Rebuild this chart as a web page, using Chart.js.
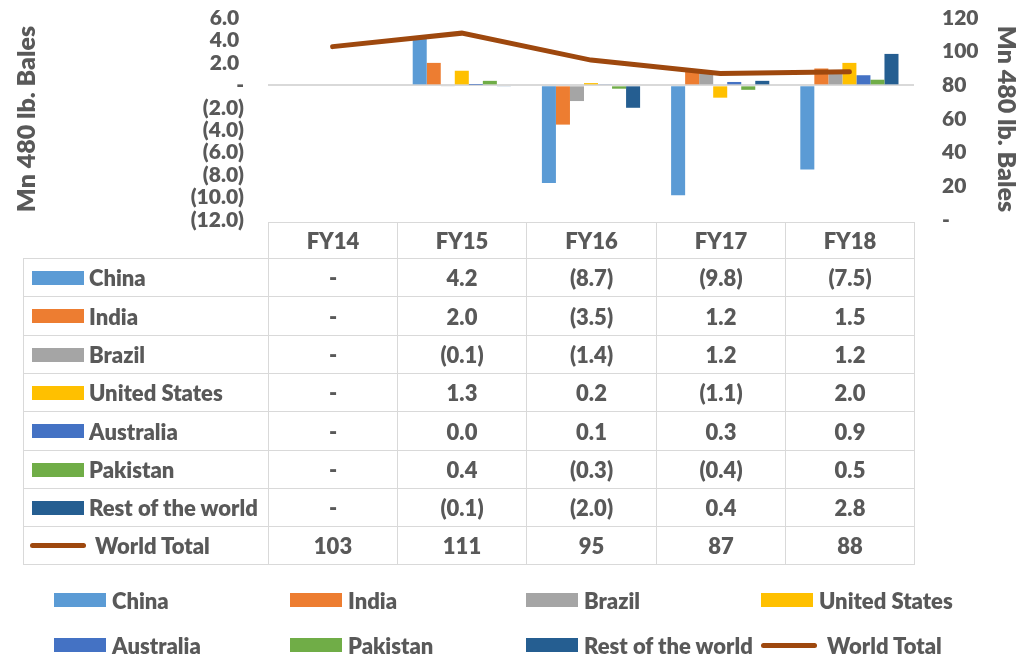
<!DOCTYPE html>
<html>
<head>
<meta charset="utf-8">
<script src="https://cdn.jsdelivr.net/npm/chart.js@4.4.1/dist/chart.umd.min.js"></script>
<style>
  body { margin: 0; background: #fff; font-family: Lato, sans-serif; font-weight: 800; color: #595959; }
  #wrap { position: relative; width: 1022px; height: 656px; overflow: hidden; }
  canvas { position: absolute; left: 0; top: 0; }
  .cell { position: absolute; box-sizing: border-box; border: 1px solid #d9d9d9; display: flex;
          align-items: center; justify-content: center; font-size: 22px; }
  .lab { justify-content: flex-start; padding-left: 8px; white-space: nowrap; }
  .sw { display: inline-block; width: 52px; height: 14px; margin-right: 5px; flex: none; }
  .ln { display: inline-block; width: 56px; height: 5px; border-radius: 3px; margin-right: 9px; margin-left: -2px; flex: none; }
  .leg { position: absolute; display: flex; align-items: center; font-size: 22px; white-space: nowrap; }
</style>
</head>
<body>
<div id="wrap">
  <canvas id="chart" width="1022" height="656"></canvas>
</div>
<script>
const years = ["FY14", "FY15", "FY16", "FY17", "FY18"];

const china     = [0, 4.2, -8.7, -9.8, -7.5];
const india     = [0, 2.0, -3.5, 1.2, 1.5];
const brazil    = [0, -0.1, -1.4, 1.2, 1.2];
const usa       = [0, 1.3, 0.2, -1.1, 2.0];
const australia = [0, 0.03, 0.1, 0.3, 0.9];
const pakistan  = [0, 0.4, -0.3, -0.4, 0.5];
const restWorld = [0, -0.1, -2.0, 0.4, 2.8];
const worldTotal = [103, 111, 95, 87, 88];

const countryNames = ["China", "India", "Brazil", "United States", "Australia", "Pakistan", "Rest of the world"];
const countryData = [china, india, brazil, usa, australia, pakistan, restWorld];
const countryColors = ["#5B9BD5", "#ED7D31", "#A5A5A5", "#FFC000", "#4472C4", "#70AD47", "#255E91"];
const totalName = "World Total";
const totalColor = "#9E480E";

const leftTicks = { min: -12, max: 6, step: 2 };
const rightTicks = { min: 0, max: 120, step: 20 };

function fmtChange(v) {
  if (v === 0) return "-";
  if (v < 0) return "(" + Math.abs(v).toFixed(1) + ")";
  return v.toFixed(1);
}

const datasets = countryNames.map((name, i) => ({
  type: "bar",
  label: name,
  data: countryData[i],
  backgroundColor: countryColors[i],
  yAxisID: "y",
  order: 2,
  categoryPercentage: 0.76,
  barPercentage: 1.0,
}));
datasets.push({
  type: "line",
  label: totalName,
  data: worldTotal,
  borderColor: totalColor,
  borderWidth: 5,
  borderCapStyle: "round",
  pointRadius: 0,
  tension: 0,
  yAxisID: "y2",
  order: 1,
});

const tickFont = { family: "Lato", size: 21, weight: "800" };
const titleFont = { family: "Lato", size: 25, weight: "800" };

// fixed axis widths, no label overhang so the plot sits where the layout padding says
function fitAxis(w) {
  return (s) => { s.width = w; s.paddingTop = 0; s.paddingBottom = 0; };
}

const chart = new Chart(document.getElementById("chart"), {
  data: { labels: years, datasets: datasets },
  options: {
    responsive: false,
    animation: false,
    layout: { padding: { top: 18, bottom: 436, left: 0, right: 0 } },
    plugins: { legend: { display: false }, tooltip: { enabled: false } },
    scales: {
      x: { display: false, offset: true },
      y: {
        position: "left",
        min: leftTicks.min, max: leftTicks.max,
        afterFit: fitAxis(268),
        ticks: {
          stepSize: leftTicks.step,
          autoSkip: false,
          color: "#595959",
          font: tickFont,
          padding: 24,
          callback: (v) => (v > 0 ? fmtChange(v) + " " : fmtChange(v)),
        },
        grid: {
          drawTicks: false,
          color: (c) => (c.tick && c.tick.value === 0 ? "#d9d9d9" : "rgba(0,0,0,0)"),
          lineWidth: 2,
        },
        border: { display: false },
        title: { display: true, text: "Mn 480 lb. Bales", color: "#595959", font: titleFont, padding: { top: 12 } },
      },
      y2: {
        position: "right",
        min: rightTicks.min, max: rightTicks.max,
        afterFit: fitAxis(108),
        ticks: {
          stepSize: rightTicks.step,
          autoSkip: false,
          color: "#595959",
          font: tickFont,
          padding: 28,
          callback: (v) => (v === 0 ? "-" : String(v)),
        },
        grid: { display: false, drawTicks: false },
        border: { display: false },
        title: { display: true, text: "Mn 480 lb. Bales", color: "#595959", font: titleFont, padding: { top: 1 } },
      },
    },
  },
});

// data table under the plot, columns taken from the chart's x scale
const wrap = document.getElementById("wrap");
const area = chart.chartArea;
const colW = (area.right - area.left) / years.length;
const tableLeft = 23;
const headTop = 222, headH = 36, rowH = 38.3;

function cell(x, y, w, h, html, cls) {
  const d = document.createElement("div");
  d.className = "cell" + (cls ? " " + cls : "");
  const x0 = Math.round(x), y0 = Math.round(y);
  d.style.left = x0 + "px";
  d.style.top = y0 + "px";
  d.style.width = (Math.round(x + w) - x0 + 1) + "px";
  d.style.height = (Math.round(y + h) - y0 + 1) + "px";
  d.innerHTML = html;
  wrap.appendChild(d);
}

years.forEach((yr, j) => cell(area.left + j * colW, headTop, colW, headH, yr));

const rowNames = countryNames.concat([totalName]);
rowNames.forEach((name, i) => {
  const top = headTop + headH + i * rowH;
  const isTotal = i === countryNames.length;
  const key = isTotal
    ? '<span class="ln" style="background:' + totalColor + '"></span>'
    : '<span class="sw" style="background:' + countryColors[i] + '"></span>';
  cell(tableLeft, top, area.left - tableLeft, rowH, key + name, "lab");
  years.forEach((yr, j) => {
    const v = isTotal ? worldTotal[j] : countryData[i][j];
    cell(area.left + j * colW, top, colW, rowH, isTotal ? String(v) : fmtChange(v));
  });
});

// legend below the table
const legX = [54, 290, 526, 761];
const legY = [600, 645];
rowNames.forEach((name, i) => {
  const d = document.createElement("div");
  d.className = "leg";
  d.style.left = legX[i % 4] + "px";
  d.style.top = (legY[Math.floor(i / 4)] - 14) + "px";
  d.style.height = "28px";
  const isTotal = i === countryNames.length;
  d.innerHTML = (isTotal
    ? '<span class="ln" style="background:' + totalColor + ';margin-left:0;margin-right:10px"></span>'
    : '<span class="sw" style="background:' + countryColors[i] + ';margin-right:6px"></span>') + name;
  wrap.appendChild(d);
});
</script>
</body>
</html>
